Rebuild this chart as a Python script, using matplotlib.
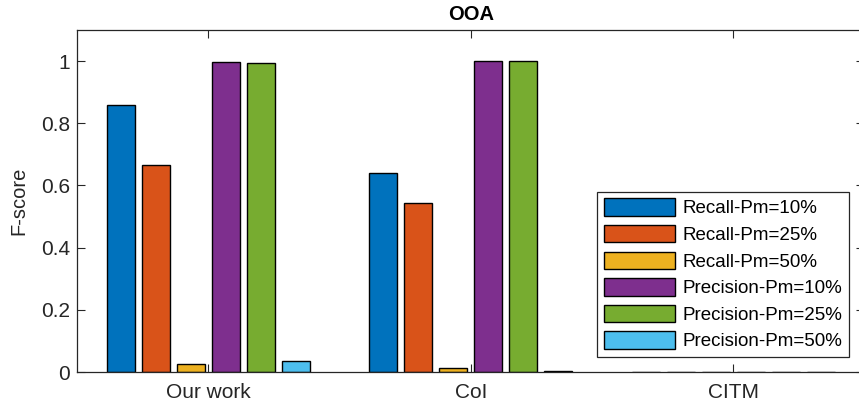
import matplotlib
matplotlib.use("Agg")
import matplotlib.pyplot as plt
import numpy as np

plt.rcParams['font.family'] = ['Liberation Sans', 'DejaVu Sans']

groups = ["Our work", "CoI", "CITM"]
series = ["Recall-Pm=10%", "Recall-Pm=25%", "Recall-Pm=50%",
          "Precision-Pm=10%", "Precision-Pm=25%", "Precision-Pm=50%"]
our_work = [0.858, 0.666, 0.026, 0.997, 0.994, 0.035]
coi = [0.641, 0.542, 0.013, 1.0, 1.0, 0.002]
citm = [0.0, 0.0, 0.0, 0.0, 0.0, 0.0]
colors = ["#0072BD", "#D95319", "#EDB120", "#7E2F8E", "#77AC30", "#4DBEEE"]

data = np.array([our_work, coi, citm])

fig = plt.figure(figsize=(8.59, 4.09), dpi=100)
ax = fig.add_axes([77/859, 1-372/409, 787.5/859, 342/409])

x = np.arange(1, len(groups) + 1)
slot = 0.1333
width = 0.106
for i, name in enumerate(series):
    ax.bar(x + (i - 2.5) * slot, data[:, i], width=width, color=colors[i],
           edgecolor="black", linewidth=1.0, label=name)

ax.set_xlim(0.5, 3.5)
ax.set_ylim(0, 1.1)
ax.set_xticks(x)
ax.set_xticklabels(groups)
ax.set_yticks([0, 0.2, 0.4, 0.6, 0.8, 1.0])
ax.set_yticklabels(["0", "0.2", "0.4", "0.6", "0.8", "1"])
ax.tick_params(direction="in", top=True, right=True, length=6, width=0.8,
               labelsize=15, colors="#262626")
ax.tick_params(axis="x", pad=8)
ax.tick_params(axis="y", pad=5)
for s in ax.spines.values():
    s.set_color("#262626")
    s.set_linewidth(0.9)
ax.set_ylabel("F-score", fontsize=14.5, color="#262626", labelpad=9)
ax.set_title("OOA", fontsize=14.5, fontweight="bold", color="black", pad=7)

leg = ax.legend(loc="lower right", bbox_to_anchor=((849-77)/787.5, 15/342),
                borderaxespad=0, fontsize=13.5, handlelength=3.8,
                handleheight=1.05, labelspacing=0.4, handletextpad=0.4,
                borderpad=0.35, fancybox=False, framealpha=1,
                edgecolor="#262626")
leg.get_frame().set_linewidth(0.9)

fig.savefig("out.png", dpi=100)
